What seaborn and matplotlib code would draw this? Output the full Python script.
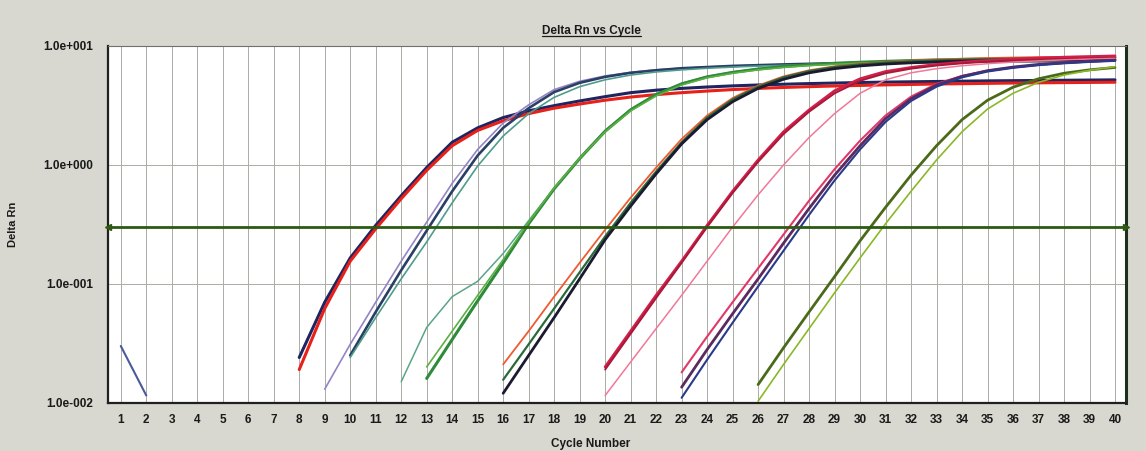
import matplotlib
matplotlib.use("Agg")
import matplotlib.pyplot as plt
from matplotlib.lines import Line2D
from matplotlib.ticker import NullLocator
import seaborn as sns
import pandas as pd

# ---------------- data ----------------
title_text = "Delta Rn vs Cycle"
x_label = "Cycle Number"
y_label = "Delta Rn"
cycles_axis = list(range(1, 41))
ytick_values = [0.01, 0.1, 1.0, 10.0]
ytick_labels = ["1.0e-002", "1.0e-001", "1.0e+000", "1.0e+001"]
threshold = 0.3

# start cycle of each well's trace
start_cycle = {
    "blue_early": 1,
    "A1": 8, "A2": 8,
    "B1": 9, "B2": 10, "B3": 10,
    "C1": 12, "C2": 13, "C3": 13,
    "D1": 16, "D2": 16, "D3": 16,
    "E1": 20, "E3": 20, "E2": 20,
    "F1": 23, "F2": 23, "F3": 23,
    "G1": 26, "G2": 26,
}

blue_early = [0.030, 0.0115]
A1 = [0.024, 0.070, 0.165, 0.31, 0.55, 0.95, 1.55, 2.05, 2.5, 2.85, 3.15, 3.45, 3.75, 4.05, 4.25, 4.4,
      4.52, 4.62, 4.7, 4.77, 4.83, 4.88, 4.93, 4.97, 5.0, 5.03, 5.06, 5.09, 5.11, 5.13, 5.15, 5.17, 5.19]
A2 = [0.019, 0.062, 0.155, 0.29, 0.52, 0.9, 1.45, 1.95, 2.35, 2.7, 3.0, 3.25, 3.5, 3.72, 3.9, 4.05,
      4.18, 4.3, 4.4, 4.48, 4.55, 4.61, 4.66, 4.71, 4.75, 4.79, 4.82, 4.85, 4.88, 4.9, 4.92, 4.94, 4.96]
B1 = [0.013, 0.031, 0.07, 0.155, 0.33, 0.7, 1.35, 2.25, 3.2, 4.3, 5.05, 5.6, 6.0, 6.3, 6.5, 6.65,
      6.78, 6.88, 6.97, 7.05, 7.11, 7.16, 7.21, 7.25, 7.29, 7.32, 7.35, 7.38, 7.4, 7.42, 7.44, 7.46]
B2 = [0.025, 0.058, 0.13, 0.28, 0.6, 1.2, 2.05, 3.0, 4.1, 4.9, 5.5, 5.95, 6.25, 6.5, 6.65, 6.8,
      6.9, 7.0, 7.08, 7.15, 7.2, 7.25, 7.3, 7.34, 7.38, 7.41, 7.44, 7.47, 7.5, 7.52, 7.54]
B3 = [0.024, 0.052, 0.11, 0.225, 0.48, 0.98, 1.75, 2.7, 3.7, 4.55, 5.2, 5.7, 6.05, 6.3, 6.5, 6.65,
      6.78, 6.88, 6.97, 7.05, 7.12, 7.18, 7.23, 7.28, 7.32, 7.36, 7.39, 7.42, 7.45, 7.47, 7.49]
C1 = [0.015, 0.043, 0.078, 0.105, 0.18, 0.34, 0.64, 1.15, 1.95, 2.95, 3.95, 4.85, 5.55, 6.05, 6.45,
      6.75, 6.98, 7.15, 7.3, 7.42, 7.52, 7.6, 7.67, 7.73, 7.78, 7.82, 7.86, 7.89, 7.92]
C2 = [0.016, 0.034, 0.072, 0.15, 0.32, 0.63, 1.13, 1.92, 2.9, 3.9, 4.8, 5.5, 6.0, 6.4, 6.72, 6.96,
      7.15, 7.3, 7.43, 7.54, 7.63, 7.7, 7.77, 7.83, 7.88, 7.92, 7.96, 8.0]
C3 = [0.02, 0.04, 0.08, 0.16, 0.33, 0.64, 1.14, 1.9, 2.85, 3.8, 4.7, 5.4, 5.9, 6.3, 6.6, 6.84,
      7.02, 7.17, 7.29, 7.39, 7.47, 7.54, 7.6, 7.65, 7.69, 7.73, 7.76, 7.79]
D1 = [0.021, 0.04, 0.078, 0.15, 0.285, 0.53, 0.95, 1.65, 2.6, 3.65, 4.65, 5.55, 6.25, 6.75, 7.1,
      7.35, 7.55, 7.7, 7.82, 7.92, 8.0, 8.06, 8.1, 8.13, 8.15]
D2 = [0.0156, 0.031, 0.062, 0.125, 0.25, 0.48, 0.88, 1.55, 2.5, 3.55, 4.55, 5.45, 6.15, 6.65, 7.0,
      7.25, 7.43, 7.57, 7.67, 7.75, 7.81, 7.86, 7.9, 7.93, 7.95]
D3 = [0.012, 0.025, 0.052, 0.11, 0.235, 0.45, 0.84, 1.5, 2.4, 3.4, 4.4, 5.25, 5.95, 6.45, 6.8,
      7.05, 7.22, 7.35, 7.45, 7.52, 7.58, 7.62, 7.65, 7.68, 7.7]
E1 = [0.020, 0.04, 0.08, 0.155, 0.31, 0.6, 1.1, 1.9, 2.9, 4.2, 5.3, 6.1, 6.6, 7.0, 7.3, 7.55,
      7.75, 7.9, 8.05, 8.15, 8.25]
E3 = [0.019, 0.038, 0.076, 0.15, 0.3, 0.58, 1.06, 1.82, 2.8, 4.0, 5.1, 5.9, 6.45, 6.85, 7.15, 7.38,
      7.55, 7.68, 7.78, 7.86, 7.92]
E2 = [0.0115, 0.022, 0.042, 0.08, 0.155, 0.3, 0.56, 1.0, 1.7, 2.7, 4.0, 5.2, 5.95, 6.45, 6.82, 7.1,
      7.33, 7.5, 7.65, 7.77, 7.87]
F1 = [0.018, 0.036, 0.07, 0.135, 0.26, 0.5, 0.92, 1.6, 2.6, 3.75, 4.8, 5.6, 6.2, 6.62, 6.95, 7.2, 7.4, 7.55]
F2 = [0.0135, 0.028, 0.056, 0.11, 0.22, 0.43, 0.82, 1.45, 2.45, 3.6, 4.7, 5.55, 6.2, 6.65, 7.0, 7.25, 7.45, 7.6]
F3 = [0.011, 0.023, 0.047, 0.095, 0.19, 0.38, 0.74, 1.35, 2.3, 3.45, 4.55, 5.45, 6.1, 6.55, 6.9, 7.15, 7.35, 7.5]
G1 = [0.0142, 0.029, 0.058, 0.115, 0.23, 0.44, 0.82, 1.45, 2.4, 3.5, 4.5, 5.3, 5.9, 6.3, 6.6]
G2 = [0.0103, 0.021, 0.042, 0.084, 0.165, 0.32, 0.6, 1.1, 1.9, 2.95, 4.0, 4.95, 5.7, 6.25, 6.7]

series = {
    "blue_early": blue_early, "A1": A1, "A2": A2, "B1": B1, "B2": B2, "B3": B3,
    "C1": C1, "C2": C2, "C3": C3, "D1": D1, "D2": D2, "D3": D3,
    "E1": E1, "E3": E3, "E2": E2, "F1": F1, "F2": F2, "F3": F3, "G1": G1, "G2": G2,
}

# ---------------- styles ----------------
colors = {
    "blue_early": "#4a5a9a",
    "A1": "#1f2560", "A2": "#e8201a",
    "B1": "#9484c4", "B2": "#2a3f66", "B3": "#4f9c8c",
    "C1": "#5aa488", "C2": "#2f8a3a", "C3": "#5ab040",
    "D1": "#f05a30", "D2": "#2a6a3a", "D3": "#1a1a30",
    "E1": "#d0204a", "E3": "#a81838", "E2": "#f07898",
    "F1": "#e03868", "F2": "#5a2a60", "F3": "#2a3a8a",
    "G1": "#4a6a1a", "G2": "#8ab828",
}
widths = {
    "blue_early": 1.5, "A1": 2.2, "A2": 2.2, "B1": 1.2, "B2": 1.9, "B3": 1.2,
    "C1": 1.1, "C2": 2.2, "C3": 1.2, "D1": 1.3, "D2": 1.6, "D3": 2.0,
    "E1": 2.0, "E3": 1.4, "E2": 1.1, "F1": 1.5, "F2": 2.0, "F3": 1.5,
    "G1": 2.0, "G2": 1.2,
}

rows = []
for well, vals in series.items():
    s = start_cycle[well]
    for i, v in enumerate(vals):
        rows.append({"well": well, "cycle": s + i, "delta_rn": v})
df = pd.DataFrame(rows)

sns.set_style("white")
plt.rcParams["font.family"] = ["Liberation Sans", "DejaVu Sans"]

W, H = 1146, 451
fig = plt.figure(figsize=(W / 100, H / 100), dpi=100, facecolor="#d8d8d0")
ax = fig.add_axes([108.3 / W, 1 - 402.7 / H, (1125.7 - 108.3) / W, (402.7 - 46) / H])
ax.set_facecolor("white")

ax.set_yscale("log")
ax.set_xlim(0.51, 40.42)
ax.set_ylim(ytick_values[0], ytick_values[-1])

# grid
for c in cycles_axis:
    ax.axvline(c, color="#acaca6", lw=0.7, zorder=0.5)
for yv in ytick_values[1:-1]:
    ax.axhline(yv, color="#acaca6", lw=0.7, zorder=0.5)

for well in series:
    sub = df[df["well"] == well]
    sns.lineplot(data=sub, x="cycle", y="delta_rn", ax=ax, color=colors[well],
                 lw=widths[well], legend=False, zorder=3)

# threshold line with end arrows
ax.axhline(threshold, color="#2d5a12", lw=2.0, zorder=4)
xl = ax.get_xlim()
ax.plot([xl[0]], [threshold], marker="<", color="#2d5a12", ms=5, clip_on=False, zorder=5)
ax.plot([xl[1]], [threshold], marker=">", color="#2d5a12", ms=5, clip_on=False, zorder=5)

ax.set_xticks(cycles_axis)
ax.set_xticklabels([str(c) for c in cycles_axis], fontsize=8.5, fontweight="bold", color="#1a1a1a")
ax.set_yticks(ytick_values)
ax.set_yticklabels(ytick_labels, fontsize=8.5, fontweight="bold", color="#1a1a1a")
ax.yaxis.set_minor_locator(NullLocator())
ax.tick_params(axis="both", length=0)
ax.tick_params(axis="y", pad=11)
ax.tick_params(axis="x", pad=8)
ax.set_xlabel("")
ax.set_ylabel(y_label, fontsize=8, fontweight="bold", color="#1a1a1a")
ax.yaxis.set_label_coords(-(108.3 - 18) / (1125.7 - 108.3), 0.5)

for side in ["left", "bottom"]:
    ax.spines[side].set_color("#202020")
    ax.spines[side].set_linewidth(1.6)
ax.spines["top"].set_color("#707070")
ax.spines["top"].set_linewidth(0.8)
ax.spines["right"].set_color("#1f2f1f")
ax.spines["right"].set_linewidth(2.2)

t = fig.text(591.7 / W, 1 - 30.7 / H, title_text, ha="center", va="center",
             fontsize=8.5, fontweight="bold", color="#1a1a1a")
fig.text(591.0 / W, 1 - 444.0 / H, x_label, ha="center", va="center",
         fontsize=8.5, fontweight="bold", color="#1a1a1a")

fig.canvas.draw()
bb = t.get_window_extent().transformed(fig.transFigure.inverted())
fig.add_artist(Line2D([bb.x0, bb.x1], [bb.y0 + 0.002, bb.y0 + 0.002], transform=fig.transFigure,
                      color="#1a1a1a", lw=0.9))

fig.savefig("out.png", dpi=100, facecolor=fig.get_facecolor())
